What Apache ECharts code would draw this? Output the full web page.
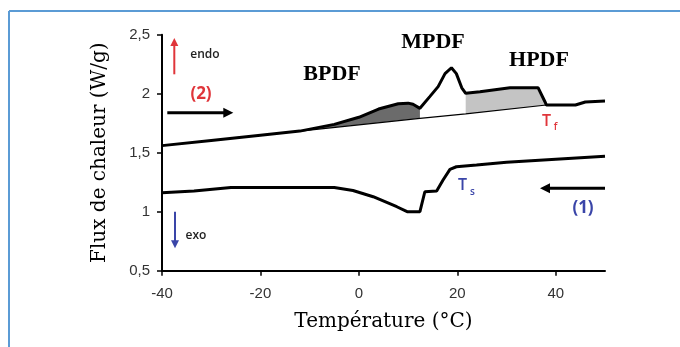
<!DOCTYPE html>
<html><head><meta charset="utf-8">
<script src="https://cdn.jsdelivr.net/npm/echarts@6/dist/echarts.min.js"></script>
<style>html,body{margin:0;padding:0;background:#fff}#c{width:680px;height:347px}</style>
</head><body><div id="c"></div>
<script>
// Heating curve (2)
const heatX = [-40, -30, -20, -12, -5, 0, 4, 8, 10, 11, 12.4, 12.8, 14.4, 16.1, 17.5, 18.8, 19.8, 20.9, 21.7, 24.6, 30.7, 36.4, 37.8, 38.1, 44, 46, 50];
const heatY = [1.56, 1.604, 1.648, 1.683, 1.74, 1.80, 1.87, 1.915, 1.92, 1.91, 1.876, 1.89, 1.975, 2.06, 2.17, 2.22, 2.17, 2.05, 2.003, 2.017, 2.051, 2.051, 1.932, 1.904, 1.904, 1.93, 1.938];
// Cooling curve (1)
const coolX = [-40, -33.5, -26, -5, -1.2, 2.9, 7.7, 9.8, 12.4, 13.4, 15.8, 17.1, 18.5, 19.8, 23.9, 30, 40, 50];
const coolY = [1.16, 1.175, 1.205, 1.205, 1.18, 1.127, 1.042, 1.0, 1.0, 1.169, 1.175, 1.269, 1.359, 1.381, 1.396, 1.42, 1.445, 1.47];
// Baseline under the heating curve
const baseX = [-12, 4.3, 12.4, 21.7, 38.1];
const baseY = [1.683, 1.755, 1.791, 1.829, 1.904];
// Shaded ranges (BPDF dark, HPDF light)
const darkRange = [-12, 12.4];
const lightRange = [21.7, 38.1];
// Ticks
const xTicks = [-40, -20, 0, 20, 40];
const yTickValues = [0.5, 1, 1.5, 2, 2.5];
const yTickLabels = ['0,5', '1', '1,5', '2', '2,5'];
const regionLabels = ['BPDF', 'MPDF', 'HPDF'];

const chart = echarts.init(document.getElementById('c'), null, {renderer: 'canvas'});

function regionSeries(range, color) {
  return {
    type: 'custom', z: 1, silent: true,
    data: [[range[0], heatY[0]]],
    renderItem: function (params, api) {
      const pts = [];
      heatX.forEach(function (x, i) {
        if (x >= range[0] - 1e-9 && x <= range[1] + 1e-9) pts.push(api.coord([x, heatY[i]]));
      });
      for (let i = baseX.length - 1; i >= 0; i--) {
        if (baseX[i] >= range[0] - 1e-9 && baseX[i] <= range[1] + 1e-9) pts.push(api.coord([baseX[i], baseY[i]]));
      }
      return {type: 'polygon', shape: {points: pts}, style: {fill: color}};
    }
  };
}

const serif = '"DejaVu Serif", serif';
const boldSerif = '"Liberation Serif", serif';
const sans = '"Open Sans", sans-serif';

function arrow(x1, y1, x2, y2, color, w, head, hw) {
  const dx = x2 - x1, dy = y2 - y1, L = Math.sqrt(dx * dx + dy * dy);
  const ux = dx / L, uy = dy / L;
  const bx = x2 - ux * head, by = y2 - uy * head;
  return [
    {type: 'line', z: 50, shape: {x1: x1, y1: y1, x2: bx + ux, y2: by + uy}, style: {stroke: color, lineWidth: w}},
    {type: 'polygon', z: 50, shape: {points: [[x2, y2], [bx - uy * hw, by + ux * hw], [bx + uy * hw, by - ux * hw]]}, style: {fill: color}}
  ];
}

const txt = (x, y, t, font, color, weight, size) => ({
  type: 'text', z: 50, x: x, y: y,
  style: {text: t, fontFamily: font, fontSize: size, fontWeight: weight, fill: color, align: 'center', verticalAlign: 'middle'}
});

const red = '#e0353a', blue = '#3a45a8';

const graphics = [
  {type: 'line', z: 60, shape: {x1: 9, y1: 11, x2: 680, y2: 11}, style: {stroke: '#5b9bd5', lineWidth: 2}},
  {type: 'line', z: 60, shape: {x1: 9, y1: 11, x2: 9, y2: 347}, style: {stroke: '#5b9bd5', lineWidth: 2}},
  txt(332, 74, regionLabels[0], boldSerif, '#000', 'bold', 22),
  txt(433, 42.5, regionLabels[1], boldSerif, '#000', 'bold', 22),
  txt(539, 60, regionLabels[2], boldSerif, '#000', 'bold', 22),
  txt(205, 55, 'endo', sans, '#222', 600, 12),
  txt(196, 236, 'exo', sans, '#222', 600, 12),
  txt(201, 94, '(2)', sans, red, 'bold', 17),
  txt(583, 208, '(1)', sans, blue, 'bold', 17),
  txt(546.5, 121, 'T', sans, red, 600, 16),
  txt(555.5, 127.5, 'f', sans, red, 600, 10),
  txt(462.5, 185, 'T', sans, blue, 600, 16),
  txt(472.5, 192.5, 's', sans, blue, 600, 10)
].concat(
  arrow(174.3, 74.3, 174.3, 38, red, 2, 8, 4),
  arrow(175, 211.7, 175, 248.3, blue, 2, 8, 4),
  arrow(167.3, 112.7, 233.3, 112.7, '#000', 3, 10, 5),
  arrow(605, 188.3, 540, 188.3, '#000', 3, 10, 5)
);

const xMin = -40, xMax = 50, yMin = 0.5, yMax = 2.5;

chart.setOption({
  animation: false,
  backgroundColor: '#fff',
  grid: {left: 162, right: 75, top: 34.7, bottom: 76.3, containLabel: false},
  xAxis: {
    type: 'value', min: xMin, max: xMax, interval: 20,
    name: 'Température (°C)', nameLocation: 'middle', nameGap: 41,
    nameTextStyle: {fontFamily: serif, fontSize: 20, color: '#000'},
    axisLine: {show: true, onZero: false, lineStyle: {color: '#000', width: 2}},
    axisTick: {show: true, length: 5, lineStyle: {color: '#000', width: 1.5}, customValues: xTicks},
    axisLabel: {fontFamily: '"Liberation Sans", Arial, sans-serif', fontSize: 15, color: '#333', margin: 16, customValues: xTicks},
    splitLine: {show: false}
  },
  yAxis: {
    type: 'value', min: yMin, max: yMax, interval: 0.5, position: 'left',
    name: 'Flux de chaleur (W/g)', nameLocation: 'middle', nameGap: 52,
    nameTextStyle: {fontFamily: serif, fontSize: 20, color: '#000'},
    axisLine: {show: true, onZero: false, lineStyle: {color: '#000', width: 2}},
    axisTick: {show: true, length: 5, lineStyle: {color: '#000', width: 1.5}},
    axisLabel: {
      fontFamily: '"Liberation Sans", Arial, sans-serif', fontSize: 15, color: '#333', margin: 12,
      formatter: function (v) {
        const i = yTickValues.findIndex(t => Math.abs(t - v) < 1e-6);
        return i >= 0 ? yTickLabels[i] : '';
      }
    },
    splitLine: {show: false}
  },
  series: [
    regionSeries(darkRange, '#6b6b6b'),
    regionSeries(lightRange, '#c4c4c4'),
    {type: 'line', z: 3, showSymbol: false, silent: true, data: baseX.map((x, i) => [x, baseY[i]]), lineStyle: {color: '#000', width: 1.2}},
    {type: 'line', z: 4, showSymbol: false, silent: true, data: heatX.map((x, i) => [x, heatY[i]]), lineStyle: {color: '#000', width: 3}},
    {type: 'line', z: 4, showSymbol: false, silent: true, data: coolX.map((x, i) => [x, coolY[i]]), lineStyle: {color: '#000', width: 3}}
  ],
  graphic: {elements: graphics}
});

// Ensure the left vertical axis line is visible (computed from the axis scales)
const pBottom = chart.convertToPixel({gridIndex: 0}, [xMin, yMin]);
const pTop = chart.convertToPixel({gridIndex: 0}, [xMin, yMax]);
chart.setOption({
  graphic: {elements: graphics.concat([
    {type: 'line', z: 70, shape: {x1: pBottom[0], y1: pBottom[1] + 1, x2: pTop[0], y2: pTop[1]}, style: {stroke: '#000', lineWidth: 2}}
  ])}
});
</script>
</body></html>
